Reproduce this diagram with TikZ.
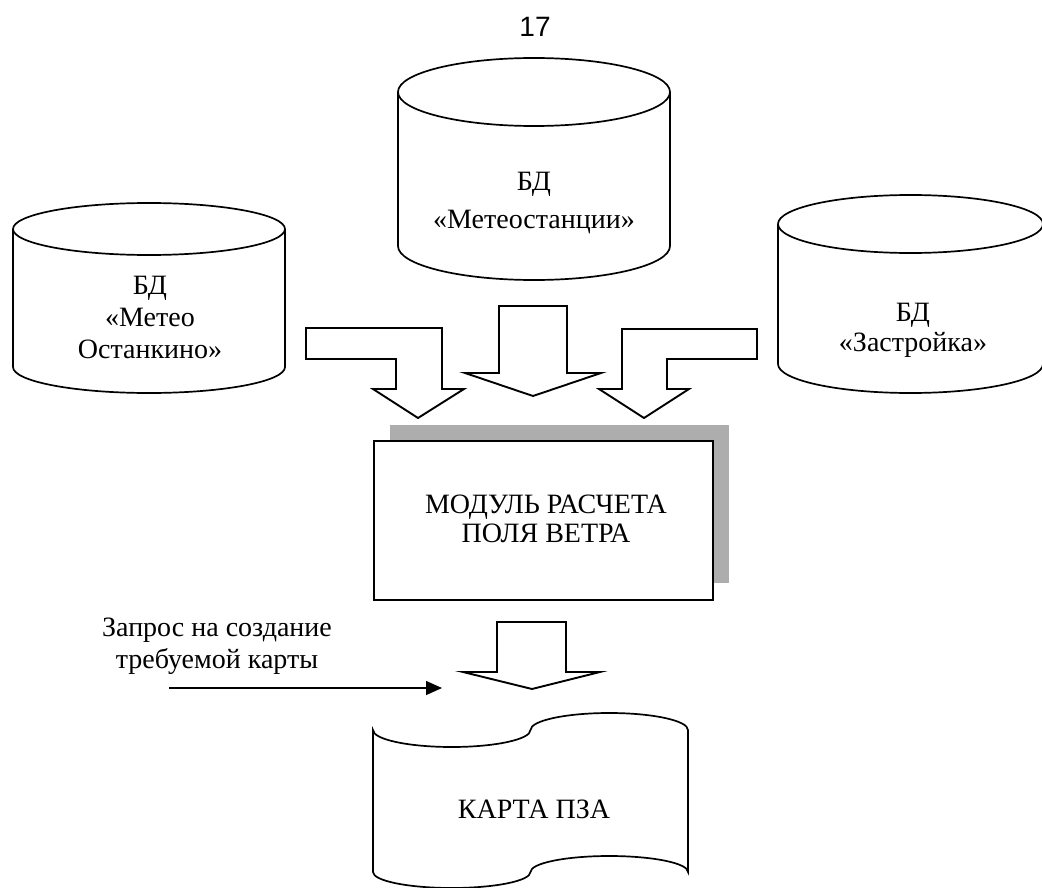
\documentclass[tikz,border=0pt]{standalone}
\usepackage{fontspec}
\setmainfont{Liberation Serif}
\newfontfamily\pagenumfont{Liberation Sans}
\usetikzlibrary{arrows.meta}
\tikzset{
  txt/.style={align=center,font=\fontsize{28}{32}\selectfont,inner sep=0pt},
  outline/.style={draw=black,line width=1.7pt,fill=white,line join=miter},
  blockarrow/.style={draw=black,line width=1.9pt,fill=white,line join=miter},
  shadowfill/.style={fill=black!32,draw=none},
  thinarrow/.style={line width=1.4pt,-{Triangle[length=16pt,width=14pt]}}
}
\begin{document}
\begin{tikzpicture}[x=1pt,y=-1pt]
\useasboundingbox (0,0) rectangle (1042,888);
% page number
\node[font=\pagenumfont\fontsize{28}{30}\selectfont,inner sep=0pt] (n17) at (535,27) {17};
% middle cylinder
\draw[outline] (398,92) -- (398,246) arc[start angle=180,end angle=0,x radius=136,y radius=34] -- (670,92);
\draw[outline] (534,92) ellipse[x radius=136,y radius=34];
\node[txt] (dbMid) at (534,203) {БД\\[6pt]«Метеостанции»};
% left cylinder
\draw[outline] (13,229) -- (13,367) arc[start angle=180,end angle=0,x radius=136,y radius=26] -- (285,229);
\draw[outline] (149,229) ellipse[x radius=136,y radius=26];
\node[txt] (dbLeft) at (150,317) {БД\\«Метео\\Останкино»};
% right cylinder
\draw[outline] (778,224) -- (778,364) arc[start angle=180,end angle=0,x radius=132.5,y radius=29] -- (1043,224);
\draw[outline] (910.5,224) ellipse[x radius=132.5,y radius=29];
\node[txt] (dbRight) at (913,330) {БД\\[-2pt]«Застройка»};
% block arrows from databases
\draw[blockarrow] (306,328) -- (442,328) -- (442,389) -- (464,389) -- (418,418) -- (373,389) -- (396,389) -- (396,359) -- (306,359) -- cycle;
\draw[blockarrow] (499,306) -- (567,306) -- (567,373) -- (601,373) -- (533,396) -- (465,373) -- (499,373) -- cycle;
\draw[blockarrow] (757,329) -- (757,359) -- (667,359) -- (667,389) -- (689,389) -- (644,418) -- (599,389) -- (622,389) -- (622,329) -- cycle;
% module box with shadow
\fill[shadowfill] (390,425) rectangle (729,583);
\node[draw=black,line width=2pt,fill=white,minimum width=339pt,minimum height=159pt,inner sep=0pt] (modbox) at (543.5,520.5) {};
\node[txt] (mod) at (546,519) {МОДУЛЬ РАСЧЕТА\\[-3pt]ПОЛЯ ВЕТРА};
% block arrow down to map
\draw[blockarrow] (497,622) -- (566,622) -- (566,672) -- (600,672) -- (532,689) -- (463,672) -- (497,672) -- cycle;
% request
\node[txt] (req) at (217,646) {Запрос на создание\\требуемой карты};
\coordinate (reqstart) at (169,688);
\coordinate (reqend) at (442,688);
\draw[thinarrow] (reqstart) -- (reqend);
% map document (punched tape)
\draw[outline] (373,730) arc[start angle=180,end angle=0,x radius=78.75,y radius=17]
  arc[start angle=180,end angle=360,x radius=78.75,y radius=17]
  -- (688,872)
  arc[start angle=0,end angle=-180,x radius=78.75,y radius=16]
  arc[start angle=0,end angle=180,x radius=78.75,y radius=16]
  -- cycle;
\node[txt] (map) at (534,809) {КАРТА ПЗА};
\end{tikzpicture}
\end{document}
